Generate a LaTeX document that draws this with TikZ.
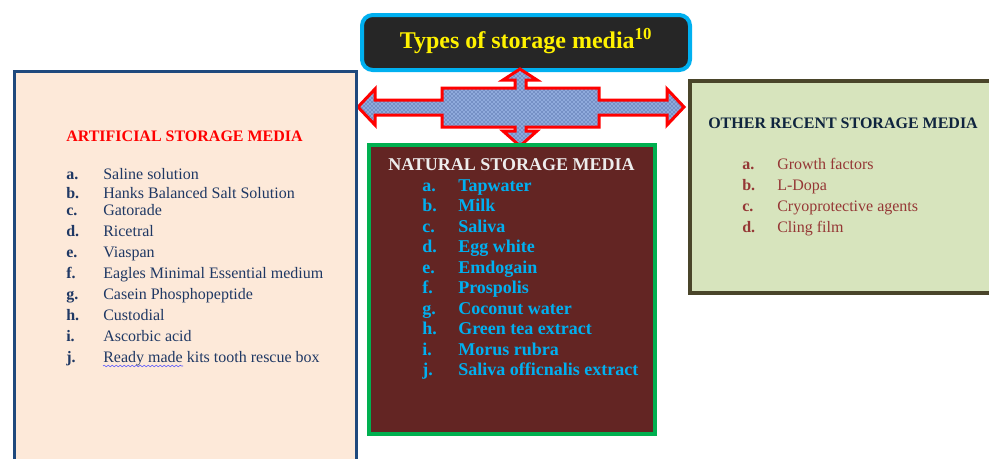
\documentclass[tikz,border=0pt]{standalone}
\usepackage{fontspec}
\setmainfont{Liberation Serif}
\usetikzlibrary{patterns,decorations.pathmorphing}

\definecolor{skycyan}{HTML}{00B0F0}
\definecolor{nightgray}{HTML}{262626}
\definecolor{peach}{HTML}{FDE9D9}
\definecolor{slateblue}{HTML}{1F497D}
\definecolor{inkblue}{HTML}{1F3864}
\definecolor{maroon}{HTML}{632523}
\definecolor{leafgreen}{HTML}{00B050}
\definecolor{sage}{HTML}{D7E4BD}
\definecolor{olive}{HTML}{4A452A}
\definecolor{deepnavy}{HTML}{0F243E}
\definecolor{brick}{HTML}{953735}
\definecolor{denim}{HTML}{8FAADC}
\definecolor{denimdark}{HTML}{1F3A7A}

\tikzset{
  heading/.style={anchor=base west,inner sep=0pt,font=\fontsize{12}{14}\selectfont\bfseries},
  artlbl/.style={anchor=base west,inner sep=0pt,text=inkblue,font=\fontsize{12}{14}\selectfont\bfseries},
  arttxt/.style={anchor=base west,inner sep=0pt,text=inkblue,font=\fontsize{12}{14}\selectfont},
  natlbl/.style={anchor=base west,inner sep=0pt,text=skycyan,font=\fontsize{13.5}{16}\selectfont\bfseries},
  othlbl/.style={anchor=base west,inner sep=0pt,text=brick,font=\fontsize{12}{14}\selectfont\bfseries},
  othtxt/.style={anchor=base west,inner sep=0pt,text=brick,font=\fontsize{12}{14}\selectfont},
}

\begin{document}
\begin{tikzpicture}[x=0.75pt,y=-0.75pt]
    \useasboundingbox[fill=white] (0,0) rectangle (989,458);

    % title
    \draw[draw=skycyan,fill=nightgray,line width=3pt,rounded corners=8] (362,15) rectangle (690,70);
    \node[anchor=base,inner sep=0pt,text=yellow,font=\fontsize{18}{20}\selectfont\bfseries] (ttl) at (526,48) {Types of storage media\textsuperscript{10}};

    % four-way arrow
    \draw[draw=red,line width=2.25pt,line join=miter,preaction={fill=denim},pattern=crosshatch dots,pattern color=denimdark]
      (358,107) -- (375,89) -- (375,100) -- (442,100) -- (442,88) -- (515,88) -- (515,80) -- (503,80)
      -- (520,69) -- (537,80) -- (526,80) -- (526,88) -- (599,88) -- (599,100) -- (667,100) -- (667,89)
      -- (684,107) -- (667,125) -- (667,115) -- (599,115) -- (599,127) -- (526,127) -- (526,131) -- (537,131)
      -- (520,146) -- (503,131) -- (515,131) -- (515,127) -- (442,127) -- (442,115) -- (375,115) -- (375,125) -- cycle;

    % artificial
    \draw[draw=slateblue,fill=peach,line width=2.25pt] (14,71) rectangle (356,475);
    \node[heading,text=red] (art) at (66,141) {ARTIFICIAL STORAGE MEDIA};
    \node[artlbl] (AL01) at (66,179) {a.};
    \node[arttxt] (A01) at (103,179) {Saline solution};
    \node[artlbl] (AL02) at (66,198) {b.};
    \node[arttxt] (A02) at (103,198) {Hanks Balanced Salt Solution};
    \node[artlbl] (AL03) at (66,215) {c.};
    \node[arttxt] (A03) at (103,215) {Gatorade};
    \node[artlbl] (AL04) at (66,236) {d.};
    \node[arttxt] (A04) at (103,236) {Ricetral};
    \node[artlbl] (AL05) at (66,257) {e.};
    \node[arttxt] (A05) at (103,257) {Viaspan};
    \node[artlbl] (AL06) at (66,278) {f.};
    \node[arttxt] (A06) at (103,278) {Eagles Minimal Essential medium};
    \node[artlbl] (AL07) at (66,299) {g.};
    \node[arttxt] (A07) at (103,299) {Casein Phosphopeptide};
    \node[artlbl] (AL08) at (66,320) {h.};
    \node[arttxt] (A08) at (103,320) {Custodial};
    \node[artlbl] (AL09) at (66,341) {i.};
    \node[arttxt] (A09) at (103,341) {Ascorbic acid};
    \node[artlbl] (AL10) at (66,362) {j.};
    \node[arttxt] (A10) at (103,362) {Ready made kits tooth rescue box};
    \draw[blue!70,line width=0.4pt,decorate,decoration={snake,amplitude=0.6pt,segment length=3pt}] (103,366) -- (183,366);

    % natural
    \draw[draw=leafgreen,fill=maroon,line width=3pt] (369,145) rectangle (655,434);
    \node[anchor=base west,inner sep=0pt,text=white!93!black,font=\fontsize{13.5}{16}\selectfont\bfseries] (nat) at (388,170) {NATURAL STORAGE MEDIA};
    \node[natlbl] (NL01) at (422,191) {a.};
    \node[natlbl] (N01) at (458,191) {Tapwater};
    \node[natlbl] (NL02) at (422,211.5) {b.};
    \node[natlbl] (N02) at (458,211.5) {Milk};
    \node[natlbl] (NL03) at (422,232) {c.};
    \node[natlbl] (N03) at (458,232) {Saliva};
    \node[natlbl] (NL04) at (422,252.5) {d.};
    \node[natlbl] (N04) at (458,252.5) {Egg white};
    \node[natlbl] (NL05) at (422,273) {e.};
    \node[natlbl] (N05) at (458,273) {Emdogain};
    \node[natlbl] (NL06) at (422,293.5) {f.};
    \node[natlbl] (N06) at (458,293.5) {Prospolis};
    \node[natlbl] (NL07) at (422,314) {g.};
    \node[natlbl] (N07) at (458,314) {Coconut water};
    \node[natlbl] (NL08) at (422,334.5) {h.};
    \node[natlbl] (N08) at (458,334.5) {Green tea extract};
    \node[natlbl] (NL09) at (422,355) {i.};
    \node[natlbl] (N09) at (458,355) {Morus rubra};
    \node[natlbl] (NL10) at (422,375.5) {j.};
    \node[natlbl] (N10) at (458,375.5) {Saliva officnalis extract};

    % other recent
    \draw[draw=olive,fill=sage,line width=3pt] (690,81) rectangle (1000,293);
    \node[heading,text=deepnavy] (oth) at (708,128) {OTHER RECENT STORAGE MEDIA};
    \node[othlbl] (OL01) at (742,169) {a.};
    \node[othtxt] (O01) at (777,169) {Growth factors};
    \node[othlbl] (OL02) at (742,190) {b.};
    \node[othtxt] (O02) at (777,190) {L-Dopa};
    \node[othlbl] (OL03) at (742,211) {c.};
    \node[othtxt] (O03) at (777,211) {Cryoprotective agents};
    \node[othlbl] (OL04) at (742,232) {d.};
    \node[othtxt] (O04) at (777,232) {Cling film};
\end{tikzpicture}
\end{document}
